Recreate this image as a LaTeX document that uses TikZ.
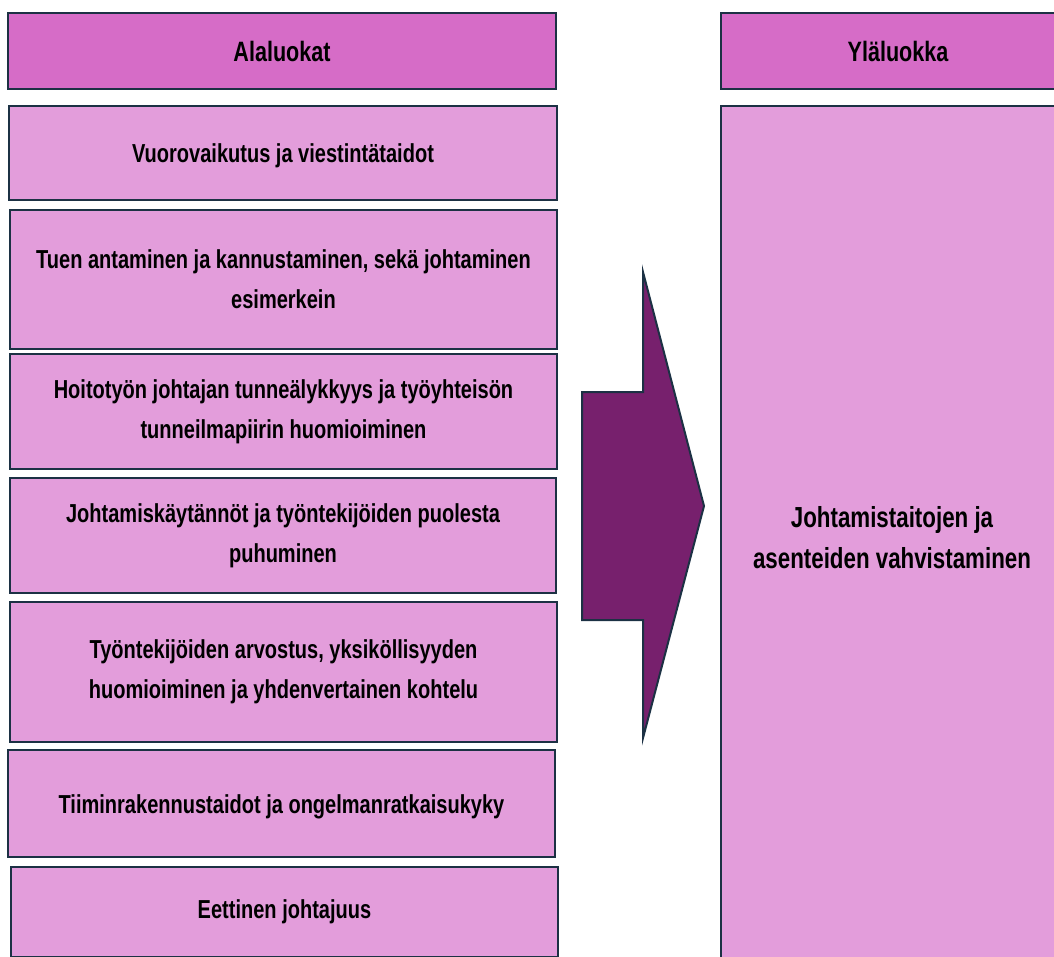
\documentclass[tikz,border=0pt]{standalone}
\usepackage{fontspec}
\setmainfont{Liberation Sans}
\newfontfamily\cond{Liberation Sans}[FakeStretch=0.77]
\definecolor{hdrfill}{HTML}{D66CC7}
\definecolor{boxfill}{HTML}{E39DDB}
\definecolor{arrowfill}{HTML}{77206D}
\definecolor{edge}{HTML}{1C3144}
\tikzset{
  base/.style={draw=edge, line width=2.2pt, inner sep=0pt, outer sep=0pt, align=center, text=black},
  hdr/.style={base, fill=hdrfill, font=\cond\bfseries\fontsize{28}{32}\selectfont},
  lbox/.style={base, fill=boxfill, font=\cond\bfseries\fontsize{26}{40}\selectfont},
  rbox/.style={base, fill=boxfill, font=\cond\bfseries\fontsize{29}{41}\selectfont},
}
\begin{document}
\begin{tikzpicture}[x=1pt,y=-1pt]
\useasboundingbox (0,0) rectangle (1054,956);
\clip (0,0) rectangle (1054,956);
% left column
\node[hdr, minimum width=548, minimum height=76] (h1) at (282,51) {Alaluokat};
\node[lbox, minimum width=548, minimum height=94] (b1) at (283,153) {};
\node[lbox, draw=none, fill=none] (t1) at (283,156) {Vuorovaikutus ja viestintätaidot};
\node[lbox, minimum width=547, minimum height=139] (b2) at (283.5,279.5) {Tuen antaminen ja kannustaminen, sekä johtaminen\\esimerkein};
\node[lbox, minimum width=547, minimum height=115] (b3) at (283.5,411.5) {Hoitotyön johtajan tunneälykkyys ja työyhteisön\\tunneilmapiirin huomioiminen};
\node[lbox, minimum width=546, minimum height=115] (b4) at (283,535.5) {Johtamiskäytännöt ja työntekijöiden puolesta\\puhuminen};
\node[lbox, minimum width=547, minimum height=140] (b5) at (283.5,672) {Työntekijöiden arvostus, yksiköllisyyden\\huomioiminen ja yhdenvertainen kohtelu};
\node[lbox, minimum width=547, minimum height=107] (b6) at (281.5,803.5) {};
\node[lbox, draw=none, fill=none] (t6) at (281.5,807) {Tiiminrakennustaidot ja ongelmanratkaisukyky};
\node[lbox, minimum width=547, minimum height=90, anchor=north] (b7) at (284.5,867) {};
\node[lbox, draw=none, fill=none] (t7) at (284.5,912) {Eettinen johtajuus};
% right column
\node[hdr, minimum width=340, minimum height=76, anchor=north west] (h2) at (721,13) {};
\node[hdr, draw=none, fill=none] (h2t) at (898,51) {Yläluokka};
\node[rbox, minimum width=340, minimum height=860, anchor=north west] (r1) at (721,106) {};
\node[rbox, draw=none, fill=none] (r1t) at (892,538) {Johtamistaitojen ja\\asenteiden vahvistaminen};
% arrow
\draw[edge, line width=2pt, fill=arrowfill, line join=miter]
  (582,392) -- (643,392) -- (643,272) -- (704,506) -- (643,738) -- (643,620) -- (582,620) -- cycle;
\end{tikzpicture}
\end{document}
